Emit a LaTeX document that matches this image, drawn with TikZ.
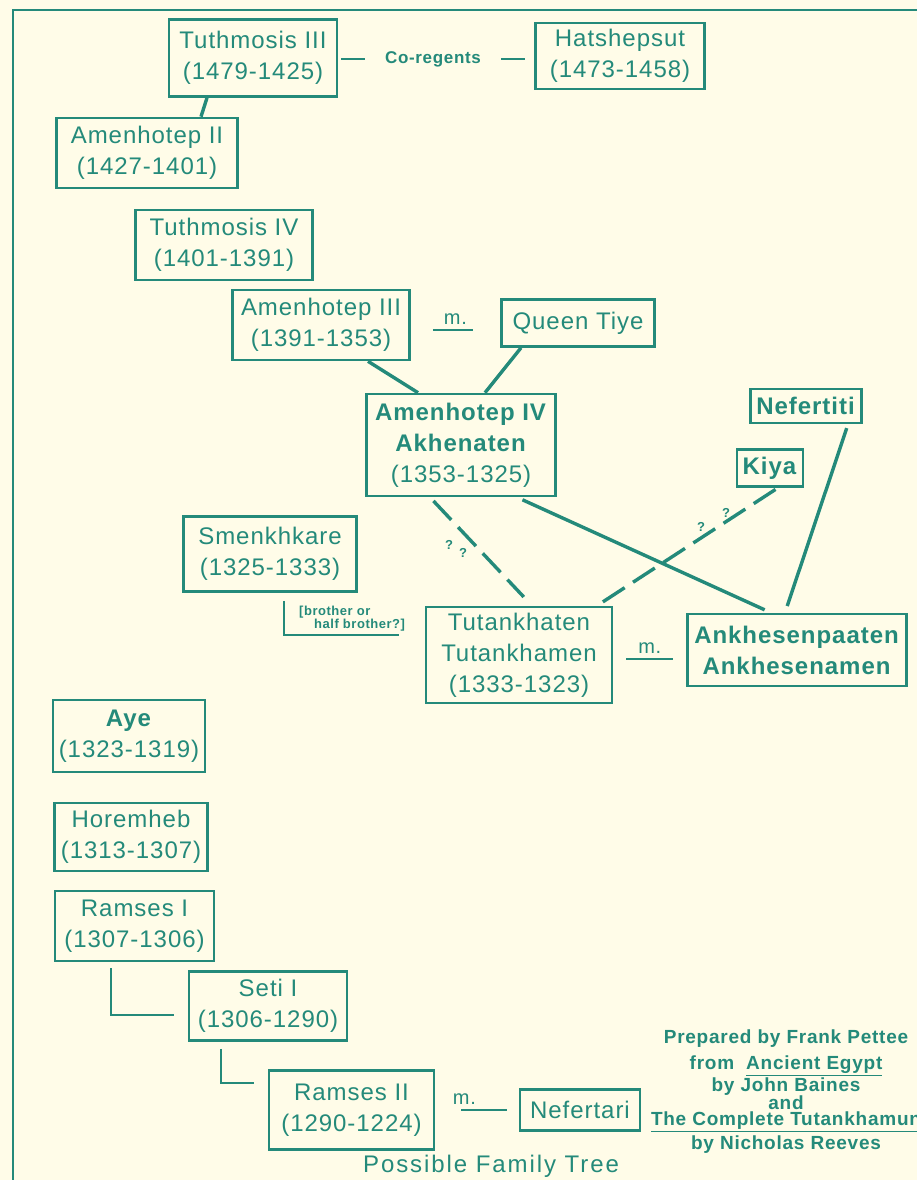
\documentclass[tikz,border=0pt]{standalone}
\usepackage{fontspec}
\setmainfont{Liberation Sans}[LetterSpace=4]
\newfontfamily\widefont{Liberation Sans}[LetterSpace=8]
\definecolor{nile}{RGB}{36,138,122}
\definecolor{papyrus}{RGB}{255,252,232}

\begin{document}
\begin{tikzpicture}[x=1pt,y=-1pt,
        royal/.style={draw=nile,line width=2.6pt,text=nile,align=center,inner sep=0pt,
            font=\fontsize{24}{31}\selectfont},
        link/.style={draw=nile,line width=3.4pt},
        thinlink/.style={draw=nile,line width=2.8pt},
        maybe/.style={link,dash pattern=on 26pt off 10pt},
        mtag/.style={text=nile,above,inner sep=4pt,font=\fontsize{20}{24}\selectfont},
        query/.style={text=nile,inner sep=0pt,font=\bfseries\fontsize{13}{14}\selectfont}]
    \useasboundingbox[fill=papyrus] (0,0) rectangle (917,1180);
    \draw[nile,line width=2.6pt] (917,10) -- (13,10) -- (13,1180);

    \node[royal,minimum width=168,minimum height=77] at (253,58) (tuth3) {Tuthmosis III\\(1479-1425)};
    \node[royal,minimum width=169,minimum height=66] at (620,56) (hatsh) {Hatshepsut\\(1473-1458)};
    \node[text=nile,inner xsep=20pt,font=\bfseries\fontsize{17}{20}\selectfont] at (433,59) (coreg) {Co-regents};
    \node[royal,minimum width=181,minimum height=70] at (147,153) (amen2) {Amenhotep II\\(1427-1401)};
    \node[royal,minimum width=177,minimum height=70] at (224,245) (tuth4) {Tuthmosis IV\\(1401-1391)};
    \node[royal,minimum width=177,minimum height=70] at (321,325) (amen3) {Amenhotep III\\(1391-1353)};
    \node[royal,minimum width=153,minimum height=47] at (578,323) (tiye) {Queen Tiye};
    \node[royal,minimum width=189,minimum height=102] at (461,445) (akhen) {\textbf{Amenhotep IV}\\\textbf{Akhenaten}\\(1353-1325)};
    \node[royal,minimum width=111,minimum height=34] at (806,406) (nefer) {\textbf{Nefertiti}};
    \node[royal,minimum width=66,minimum height=37] at (770,468) (kiya) {\textbf{Kiya}};
    \node[royal,minimum width=173,minimum height=75] at (270,554) (smenk) {Smenkhkare\\(1325-1333)};
    \node[text=nile,inner sep=0pt,anchor=north west,align=left,
        font=\bfseries\fontsize{13}{11}\selectfont] at (299,606) (sibling) {[brother or\\\hspace*{15pt}half brother?]};
    \node[royal,minimum width=186,minimum height=96] at (519,655) (tutan) {Tutankhaten\\Tutankhamen\\(1333-1323)};
    \node[royal,minimum width=219,minimum height=72] at (797,650) (ankh) {\textbf{Ankhesenpaaten}\\\textbf{Ankhesenamen}};
    \node[royal,minimum width=152,minimum height=72] at (129,736) (aye) {\textbf{Aye}\\(1323-1319)};
    \node[royal,minimum width=153,minimum height=68] at (131,837) (horem) {Horemheb\\(1313-1307)};
    \node[royal,minimum width=159,minimum height=70] at (134.5,926) (ram1) {Ramses I\\(1307-1306)};
    \node[royal,minimum width=158,minimum height=69] at (268,1006) (seti) {Seti I\\(1306-1290)};
    \node[royal,minimum width=165,minimum height=79] at (351.5,1110) (ram2) {Ramses II\\(1290-1224)};
    \node[royal,minimum width=120,minimum height=41] at (580,1110) (nefta) {Nefertari};

    \node[query] at (449,545) (q1) {?};
    \node[query] at (463,553) (q2) {?};
    \node[query] at (701,527) (q3) {?};
    \node[query] at (726,513) (q4) {?};

    \node[text=nile,inner sep=0pt,font=\widefont\fontsize{24}{28}\selectfont] at (491,1166) (title) {Possible Family Tree};
    \node[text=nile,inner sep=0pt,anchor=north,align=center,
        font=\bfseries\fontsize{19}{24}\selectfont] at (786,1030) (credit)
        {Prepared by Frank Pettee\\[2pt]from\ \ \underline{Ancient Egypt}\\[-2pt]by John Baines\\[-6pt]and\\[-8pt]\underline{The Complete Tutankhamun}\\by Nicholas Reeves};

    \draw[link] ([xshift=-46pt]tuth3.south) -- ([xshift=54pt]amen2.north);
    \draw[thinlink,shorten <=3pt] (tuth3.east |- coreg) -- (coreg.west);
    \draw[thinlink,shorten >=9pt] (coreg.east) -- (coreg -| hatsh.west);
    \draw[thinlink,shorten <=22pt,shorten >=27pt] ([yshift=-5pt]amen3.east) -- ([yshift=-5pt]amen3.east -| tiye.west) node[mtag,midway] {m.};
    \draw[link] ([xshift=47pt]amen3.south) -- ([xshift=-43pt]akhen.north);
    \draw[link] ([xshift=-57pt]tiye.south) -- ([xshift=24pt]akhen.north);
    \draw[maybe,shorten <=5pt,shorten >=12pt] ([xshift=-31pt]akhen.south) -- ([xshift=13pt]tutan.north);
    \draw[link,shorten <=6pt,shorten >=7pt] ([xshift=56pt]akhen.south) -- ([xshift=-26pt]ankh.north);
    \draw[maybe,shorten <=7pt] ([xshift=78pt]tutan.north) -- ([xshift=8pt]kiya.south);
    \draw[link,shorten <=4pt,shorten >=7pt] ([xshift=42pt]nefer.south) -- ([xshift=-12pt]ankh.north);
    \draw[thinlink,shorten <=8pt,shorten >=26pt] ([xshift=14pt]smenk.south) |- ([yshift=20pt]tutan.west);
    \draw[thinlink,shorten <=13pt,shorten >=13pt] ([yshift=-4pt]tutan.east) -- ([yshift=-4pt]tutan.east -| ankh.west) node[mtag,midway] {m.};
    \draw[thinlink,shorten <=6pt,shorten >=14pt] ([xshift=-23.5pt]ram1.south) |- ([yshift=-9pt]seti.west);
    \draw[thinlink,shorten <=7pt,shorten >=14pt] ([xshift=-47pt]seti.south) |- ([yshift=27pt]ram2.west);
    \draw[thinlink,shorten <=26pt,shorten >=12pt] (ram2.east) -- (ram2.east -| nefta.west) node[mtag,pos=0.35] {m.};
\end{tikzpicture}
\end{document}
